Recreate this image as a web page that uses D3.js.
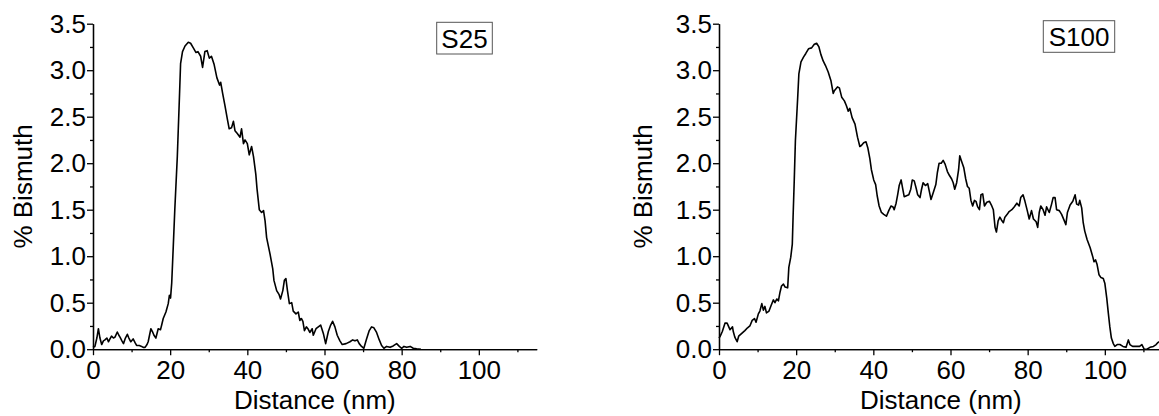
<!DOCTYPE html>
<meta charset="utf-8">
<style>
  body { margin: 0; background: #fff; }
  text { font-family: "Liberation Sans", Arial, sans-serif; fill: #000; }
  .axis path, .axis line { stroke: #000; stroke-width: 1.3px; }
  .axis text { font-size: 26px; }
  .curve { fill: none; stroke: #000; stroke-width: 1.6px; stroke-linejoin: round; }
  .title { font-size: 26px; }
  .tag rect { fill: #fff; stroke: #555; stroke-width: 1px; }
  .tag text { font-size: 26px; }
</style>
<script src="https://cdn.jsdelivr.net/npm/d3@7"></script>
<svg id="chart" width="1159" height="416"></svg>
<script>
// x ticks, y ticks
var xTicks = [0, 20, 40, 60, 80, 100];
var xMinor = [10, 30, 50, 70, 90, 110];
var yTicks = [0, 0.5, 1.0, 1.5, 2.0, 2.5, 3.0, 3.5];
var yMinor = [0.25, 0.75, 1.25, 1.75, 2.25, 2.75, 3.25];

// S25 profile (nm, % Bi)
var s25Distance = [0, 0.5, 1, 1.4, 1.8, 2.25, 2.7, 3.1, 3.6, 4, 4.4, 4.8, 5.3, 5.7, 6.3, 6.7, 7, 7.5, 7.9, 8.4,
  8.9, 9.3, 9.8, 10.4, 10.9, 11.3, 12, 12.6, 13, 13.5, 14, 14.3, 15, 15.4, 15.8, 16.3, 16.9, 17.5, 17.8, 18.2,
  18.9, 19.5, 19.8, 20.1, 20.4, 20.8, 21.2, 21.85, 22.4, 22.7, 23.2, 23.85, 24.7, 25.3, 26, 26.7, 27.2, 27.9, 28.4, 29,
  29.6, 30.15, 30.7, 31.4, 32.1, 32.8, 33.1, 33.6, 34.2, 34.8, 35.3, 35.9, 36.4, 36.8, 37.4, 38.1, 38.5, 39, 39.4, 40,
  40.5, 41.1, 41.6, 42.2, 42.5, 43.1, 43.7, 44.2, 44.6, 45, 45.9, 46.6, 46.9, 47.6, 48.2, 48.6, 49.2, 49.6, 50, 50.4,
  50.9, 51.5, 51.9, 52.6, 53.2, 53.6, 54, 54.4, 54.8, 55.3, 55.7, 56.2, 56.8, 57.1, 57.8, 58.4, 59, 59.7, 60.3, 61,
  61.6, 62.1, 62.7, 63.3, 64, 64.6, 65.6, 66.6, 67.3, 67.9, 68.5, 69, 69.6, 70.2, 70.9, 71.6, 72.2, 72.8, 73.5, 74.2,
  74.8, 75.4, 76.1, 77, 77.8, 78.7, 79.4, 80, 80.6, 81.3, 82.2, 83, 83.9, 85];
var s25Bismuth = [0.02, 0.03, 0.12, 0.22, 0.12, 0.05, 0.09, 0.10, 0.12, 0.08, 0.11, 0.14, 0.12, 0.13, 0.185, 0.15, 0.13, 0.09, 0.06, 0.12,
  0.16, 0.12, 0.08, 0.11, 0.07, 0.04, 0.04, 0.03, 0.02, 0.02, 0.05, 0.08, 0.22, 0.19, 0.15, 0.12, 0.22, 0.21, 0.26, 0.33,
  0.40, 0.49, 0.58, 0.55, 0.71, 1.10, 1.5, 2.07, 2.71, 3.07, 3.2, 3.26, 3.3, 3.29, 3.24, 3.19, 3.20, 3.15, 3.03, 3.2,
  3.21, 3.13, 3.15, 3.06, 2.92, 2.84, 2.87, 2.75, 2.62, 2.48, 2.37, 2.38, 2.45, 2.35, 2.32, 2.28, 2.37, 2.21, 2.25, 2.21,
  2.09, 2.18, 2.07, 1.88, 1.73, 1.50, 1.47, 1.49, 1.38, 1.2, 1.02, 0.86, 0.74, 0.63, 0.59, 0.54, 0.63, 0.74, 0.76, 0.63,
  0.49, 0.50, 0.41, 0.38, 0.40, 0.31, 0.33, 0.30, 0.20, 0.24, 0.22, 0.18, 0.22, 0.15, 0.22, 0.24, 0.26, 0.17, 0.06, 0.19,
  0.26, 0.30, 0.24, 0.15, 0.09, 0.05, 0.06, 0.08, 0.10, 0.09, 0.10, 0.06, 0.03, 0.01, 0.11, 0.20, 0.24, 0.23, 0.18, 0.10,
  0.04, 0.01, 0.03, 0.02, 0.035, 0.06, 0.03, 0.01, 0.03, 0.02, 0.03, 0.01, 0.005, 0];

// S100 profile (nm, % Bi)
var s100Distance = [0, 0.26, 0.86, 1.55, 2.1, 2.85, 3.5, 3.7, 4.1, 4.7, 5.1, 5.9, 6.7, 7.4, 8, 8.6, 9.2, 9.6, 10.2, 10.6,
  11.1, 11.5, 11.9, 12.3, 12.96, 13.5, 14.1, 14.5, 15, 15.4, 15.8, 16.2, 16.7, 17.1, 17.8, 18.1, 18.6, 19, 19.2, 19.5,
  19.8, 20.4, 20.7, 21.25, 21.9, 22.5, 23.2, 24, 24.7, 25.3, 25.9, 26.4, 27, 27.6, 28.3, 29, 29.6, 29.9, 30.7, 31.2,
  31.8, 32.5, 33, 33.5, 33.9, 34.5, 35.25, 35.9, 36.5, 36.9, 37.5, 38.1, 38.6, 39.1, 39.5, 40.1, 40.6, 41, 41.5, 42.1,
  42.7, 43.4, 44, 44.6, 45.1, 45.4, 45.9, 46.3, 46.7, 47.2, 47.6, 48, 48.6, 49.2, 49.7, 50.1, 50.6, 51.1, 51.5, 52.1,
  52.5, 52.9, 53.5, 54.1, 54.5, 54.95, 55.5, 56.2, 56.6, 57.05, 57.6, 58.1, 58.6, 59.2, 59.7, 60.3, 60.7, 61.1, 61.6, 62.1,
  62.4, 62.8, 63.45, 63.95, 64.4, 64.85, 65.3, 65.75, 66.2, 66.6, 67.05, 67.5, 67.9, 68.35, 68.8, 69.4, 70.1, 70.6, 71.1, 71.55,
  71.9, 72.35, 72.8, 73.2, 73.7, 74.1, 74.7, 75.2, 75.9, 76.5, 77.2, 77.8, 78.2, 78.8, 79.3, 79.9, 80.4, 81, 81.5, 82.2,
  82.6, 83, 83.4, 84, 84.5, 84.9, 85.6, 86.2, 86.6, 87.1, 87.5, 88.2, 88.8, 89.4, 89.9, 90.3, 91, 91.7, 92.3, 92.7,
  93.2, 93.5, 94, 94.4, 94.8, 95.4, 96.2, 96.9, 97.2, 97.6, 98, 98.5, 99, 99.6, 100, 100.5, 100.9, 101.3, 101.7, 102.2,
  102.6, 103.2, 103.9, 104.7, 105.5, 106.1, 106.5, 107.2, 108.1, 109, 109.6, 110.2, 110.9, 111.7, 112.6, 113.3, 113.7, 114.5];
var s100Bismuth = [0.12, 0.135, 0.19, 0.28, 0.28, 0.21, 0.24, 0.19, 0.13, 0.08, 0.14, 0.17, 0.20, 0.23, 0.25, 0.31, 0.33, 0.29, 0.38, 0.41,
  0.49, 0.42, 0.46, 0.39, 0.41, 0.47, 0.53, 0.50, 0.54, 0.52, 0.61, 0.68, 0.70, 0.67, 0.66, 0.88, 0.99, 1.13, 1.42, 1.81,
  2.24, 2.71, 2.96, 3.09, 3.14, 3.18, 3.23, 3.24, 3.28, 3.29, 3.25, 3.17, 3.10, 3.05, 2.98, 2.89, 2.75, 2.78, 2.82, 2.81,
  2.71, 2.67, 2.62, 2.56, 2.59, 2.49, 2.42, 2.28, 2.18, 2.19, 2.22, 2.23, 2.16, 2.05, 1.93, 1.82, 1.77, 1.65, 1.54, 1.47,
  1.45, 1.43, 1.49, 1.54, 1.53, 1.50, 1.57, 1.66, 1.76, 1.82, 1.73, 1.64, 1.65, 1.66, 1.72, 1.82, 1.81, 1.73, 1.66, 1.63,
  1.72, 1.79, 1.76, 1.78, 1.70, 1.61, 1.68, 1.77, 1.90, 2.00, 2.00, 2.03, 1.99, 1.91, 1.87, 1.83, 1.79, 1.72, 1.79, 1.93,
  2.08, 2.03, 1.95, 1.83, 1.75, 1.73, 1.60, 1.54, 1.60, 1.59, 1.53, 1.50, 1.66, 1.67, 1.54, 1.58, 1.59, 1.55, 1.50, 1.31,
  1.26, 1.38, 1.42, 1.39, 1.36, 1.42, 1.45, 1.48, 1.50, 1.53, 1.57, 1.54, 1.63, 1.66, 1.59, 1.49, 1.40, 1.49, 1.40, 1.37,
  1.31, 1.47, 1.54, 1.50, 1.44, 1.53, 1.47, 1.56, 1.63, 1.63, 1.50, 1.49, 1.45, 1.39, 1.34, 1.47, 1.55, 1.59, 1.66, 1.56,
  1.55, 1.60, 1.52, 1.36, 1.27, 1.18, 1.09, 0.99, 0.94, 0.96, 0.91, 0.80, 0.77, 0.76, 0.71, 0.55, 0.39, 0.24, 0.12, 0.06,
  0.03, 0.05, 0.05, 0.03, 0.02, 0.10, 0.05, 0.03, 0.03, 0.03, 0.05, 0.00, 0.00, 0.02, 0.03, 0.05, 0.07, 0.09];

var width = 443.7, height = 325.5;
var svg = d3.select('#chart');

function drawPanel(left, top, xs, ys, tag, tagBox, yTitleX) {
  var x = d3.scaleLinear().domain([0, 115]).range([0, width]);
  var y = d3.scaleLinear().domain([0, 3.5]).range([height, 0]);
  var g = svg.append('g').attr('transform', 'translate(' + left + ',' + top + ')');

  // minor ticks first
  g.append('g').attr('class', 'axis')
    .attr('transform', 'translate(0,' + height + ')')
    .call(d3.axisBottom(x).tickValues(xMinor).tickSize(3).tickSizeOuter(0).tickFormat(''));
  g.append('g').attr('class', 'axis')
    .call(d3.axisLeft(y).tickValues(yMinor).tickSize(3).tickSizeOuter(0).tickFormat(''));

  g.append('g').attr('class', 'axis')
    .attr('transform', 'translate(0,' + height + ')')
    .call(d3.axisBottom(x).tickValues(xTicks).tickSize(6).tickSizeOuter(0).tickPadding(5.5).tickFormat(d3.format('d')));
  g.append('g').attr('class', 'axis')
    .call(d3.axisLeft(y).tickValues(yTicks).tickSize(6).tickSizeOuter(0).tickPadding(1).tickFormat(d3.format('.1f')));
  g.selectAll('.axis .domain').attr('fill', 'none');

  var pts = xs.map(function(d, i) { return [d, ys[i]]; });
  var line = d3.line()
    .x(function(d) { return x(d[0]); })
    .y(function(d) { return y(d[1]); });
  g.append('path').datum(pts).attr('class', 'curve').attr('d', line);

  g.append('text').attr('class', 'title')
    .attr('x', width / 2).attr('y', 385)
    .attr('text-anchor', 'middle')
    .text('Distance (nm)');
  g.append('text').attr('class', 'title')
    .attr('transform', 'translate(' + yTitleX + ',' + height / 2 + ') rotate(-90)')
    .attr('text-anchor', 'middle')
    .text('% Bismuth');

  var t = g.append('g').attr('class', 'tag');
  t.append('rect').attr('x', tagBox[0]).attr('y', tagBox[1])
    .attr('width', tagBox[2]).attr('height', tagBox[3]);
  t.append('text').attr('x', tagBox[0] + tagBox[2] / 2).attr('y', tagBox[1] + tagBox[3] - 6)
    .attr('text-anchor', 'middle').text(tag);
}

drawPanel(93, 23.7, s25Distance, s25Bismuth, 'S25', [343.7, -1.4, 55.6, 31.7], -61.5);
drawPanel(719, 23.7, s100Distance, s100Bismuth, 'S100', [324.3, -3, 71.4, 31.6], -67.5);
</script>
